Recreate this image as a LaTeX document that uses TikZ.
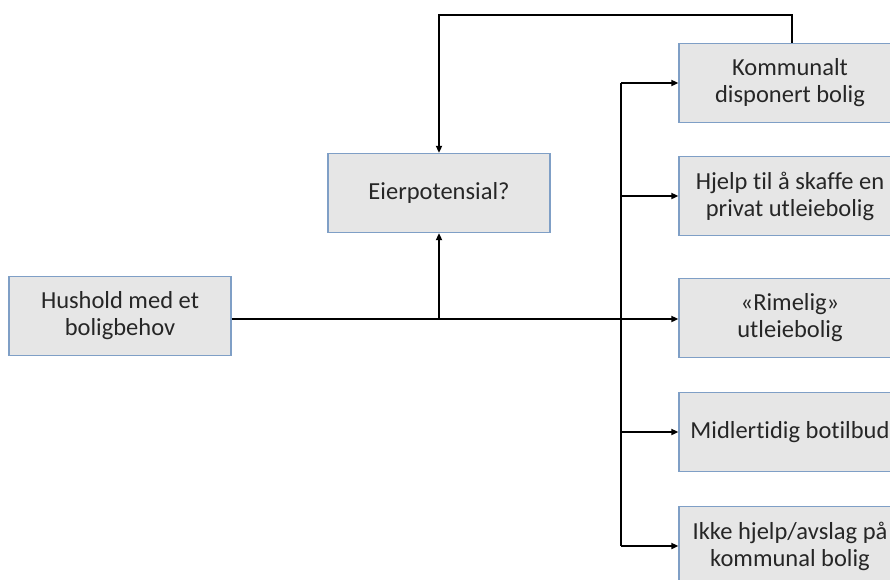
\documentclass[tikz,border=0pt]{standalone}
\usepackage{fontspec}
\setmainfont{Carlito}[Ligatures=NoCommon]
\usetikzlibrary{arrows.meta}
\definecolor{boxfill}{HTML}{E6E6E6}
\definecolor{boxline}{HTML}{7F9FC6}
\tikzset{
  box/.style={draw=boxline, line width=1.3pt, fill=boxfill, minimum width=222pt, minimum height=79pt,
    inner sep=0pt, align=center, font=\fontsize{24.5}{27}\selectfont, text=black!85},
  conn/.style={line width=2pt, black},
  arr/.style={conn, -{Triangle[length=7pt,width=6pt]}}
}
\begin{document}
\begin{tikzpicture}[x=1pt,y=-1pt]
\useasboundingbox (0,0) rectangle (890,579);
\clip (0,0) rectangle (890,579);
\node[box] (hush) at (120,316) {Hushold med et\\boligbehov};
\node[box] (eier) at (439,193) {Eierpotensial?};
\node[box] (r1) at (790,83) {Kommunalt\\disponert bolig};
\node[box] (r2) at (790,196) {Hjelp til å skaffe en\\privat utleiebolig};
\node[box] (r3) at (790,318) {«Rimelig»\\utleiebolig};
\node[box] (r4) at (790,432) {Midlertidig botilbud};
\node[box] (r5) at (790,546) {Ikke hjelp/avslag på\\kommunal bolig};
\coordinate (j) at (439,319);
\coordinate (bus) at (621,0);
\coordinate (top) at (439,15);
\draw[conn] (hush.east |- j) -- (j);
\draw[arr] (j) -- (eier.south);
\draw[arr] (j) -- (r3.west |- j);
\draw[conn] (bus |- r1.west) -- (bus |- r5.west);
\draw[arr] (bus |- r1.west) -- (r1.west);
\draw[arr] (bus |- r2.west) -- (r2.west);
\draw[arr] (bus |- r4.west) -- (r4.west);
\draw[arr] (bus |- r5.west) -- (r5.west);
\draw[arr] ([xshift=2pt]r1.north) |- (top) -- (eier.north);
\end{tikzpicture}
\end{document}
